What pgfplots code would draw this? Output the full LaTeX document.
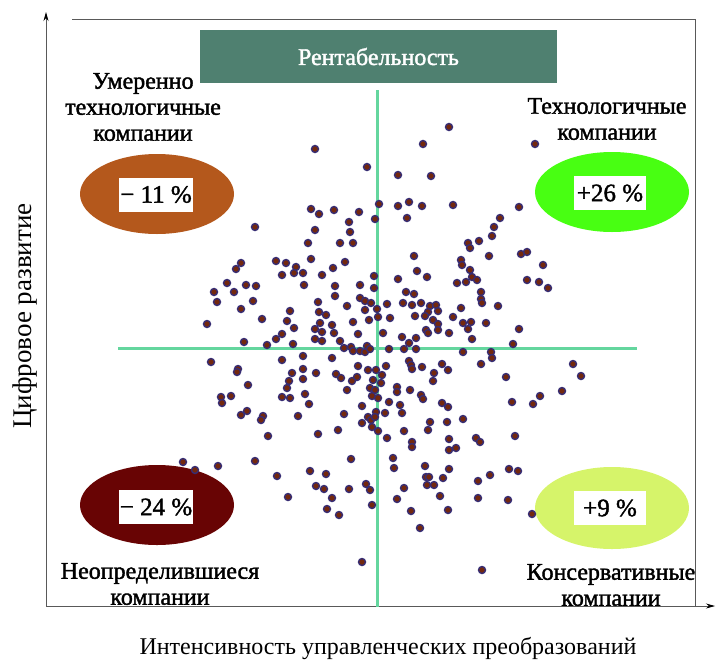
\documentclass[border=0pt]{standalone}
\usepackage{fontspec}
\setmainfont{Liberation Serif}
\newfontfamily\heavy{Liberation Serif}[FakeBold=1.6]
\usepackage{pgfplots}
\pgfplotsset{compat=1.18}
\usetikzlibrary{arrows.meta}
\definecolor{cross}{RGB}{100,214,158}
\definecolor{titlebox}{RGB}{79,128,112}
\definecolor{ebrown}{RGB}{180,88,28}
\definecolor{egreen}{RGB}{72,255,18}
\definecolor{ered}{RGB}{104,4,4}
\definecolor{elime}{RGB}{214,244,106}
\definecolor{dotfill}{RGB}{115,40,14}
\definecolor{dotedge}{RGB}{55,45,115}
\begin{document}
\begin{tikzpicture}
\begin{axis}[
  scale only axis, width=717pt, height=662pt,
  xmin=0, xmax=717, ymin=0, ymax=662, y dir=reverse,
  axis lines=none, ticks=none, clip=false,
]
% axes and frame
\draw[gray!70!black, line width=0.8pt] (axis cs:72,19) -- (axis cs:695,19) -- (axis cs:695,606);
\draw[gray!70!black, line width=0.8pt, -{Stealth[length=9pt,width=5pt,black]}] (axis cs:46,606) -- (axis cs:46,12);
\draw[gray!70!black, line width=0.8pt, -{Stealth[length=9pt,width=5pt,black]}] (axis cs:46,606) -- (axis cs:715,606);
% crosshair
\addplot[cross, line width=3pt] coordinates {(377,90) (377,607)};
\addplot[cross, line width=3pt] coordinates {(118,348) (637,348)};
% scatter
\addplot[only marks, mark=*, mark size=3.5pt, mark options={fill=dotfill, draw=dotedge, line width=1.4pt}] table {
x y
255 227
308 243
311 209
241 263
236 269
276 261
286 263
296 267
311 259
315 149
367 167
449 127
423 144
398 175
431 176
379 204
398 206
409 202
422 206
407 218
375 219
319 214
334 210
359 212
349 222
315 230
350 232
340 243
353 243
345 262
333 268
414 256
417 271
535 144
453 205
519 207
500 218
494 227
492 236
479 241
468 243
470 248
461 260
462 265
470 270
489 256
521 254
527 252
543 265
282 275
294 273
303 273
304 285
227 283
246 285
256 286
214 292
234 292
217 302
253 301
241 309
290 311
262 319
287 321
207 324
294 328
282 334
276 339
244 342
267 345
293 344
303 356
282 360
211 362
238 369
237 372
292 373
303 369
289 381
303 379
248 385
287 388
221 397
222 403
231 396
282 397
290 398
305 394
309 404
247 411
241 415
263 416
261 420
298 416
322 275
374 276
374 288
360 285
335 286
335 296
398 279
427 277
406 292
414 294
403 303
387 304
360 298
365 301
371 303
347 306
318 302
319 312
326 315
365 310
377 309
378 317
390 318
369 320
353 322
320 323
332 325
315 329
322 332
334 333
358 334
383 333
315 339
322 341
340 341
344 348
351 347
353 351
360 351
365 352
367 346
370 349
389 349
402 337
409 343
404 349
416 349
416 338
412 305
421 303
430 306
428 312
436 305
438 311
415 316
425 316
433 320
438 324
426 330
428 333
438 330
449 333
332 358
316 373
336 374
341 378
358 366
368 370
376 370
386 366
382 375
357 377
352 381
373 380
381 383
347 390
370 388
375 390
372 396
378 398
397 387
397 392
409 361
411 365
412 369
422 367
410 390
421 395
423 399
434 373
433 381
442 364
448 370
442 403
448 407
389 402
400 405
402 413
362 406
385 413
376 412
344 414
368 417
371 420
375 417
362 423
430 422
447 422
457 283
466 282
472 277
477 280
481 292
481 299
482 303
498 306
527 280
539 282
548 288
461 308
453 317
463 323
471 322
468 329
486 323
472 339
519 329
513 344
463 352
491 352
492 358
481 364
506 377
573 364
581 376
562 391
540 396
533 404
512 402
463 419
268 436
183 462
195 470
218 466
255 461
277 476
288 497
318 434
338 430
372 427
378 431
387 438
404 431
412 442
412 447
428 430
449 439
449 450
351 459
393 458
394 468
310 471
326 474
316 486
324 489
349 489
366 484
370 490
425 466
426 477
429 477
427 485
434 485
443 478
449 469
404 488
440 496
332 498
397 499
372 505
327 509
339 515
411 511
448 510
420 528
362 562
476 438
480 442
515 436
456 448
478 481
490 475
509 469
518 471
478 498
508 500
532 514
482 570
};
% title box
\node[fill=titlebox, minimum width=357pt, minimum height=53pt, inner sep=0pt, text=white, font=\heavy\fontsize{24}{28}\selectfont] at (axis cs:378.5,56.5) {Рентабельность};
% ellipses
\fill[ebrown] (axis cs:157,194) ellipse [x radius=77pt, y radius=40pt];
\fill[egreen] (axis cs:612,192) ellipse [x radius=77pt, y radius=40pt];
\fill[ered] (axis cs:157,505) ellipse [x radius=77pt, y radius=40pt];
\fill[elime] (axis cs:612,508) ellipse [x radius=77pt, y radius=41pt];
\tikzset{pbox/.style={fill=white, minimum width=72pt, minimum height=34pt, inner sep=1pt, font=\heavy\fontsize{25}{28}\selectfont}}
\node[pbox] at (axis cs:156,194.5) {− 11 \%};
\node[pbox] at (axis cs:610,193) {+26 \%};
\node[pbox] at (axis cs:156,507) {− 24 \%};
\node[pbox] at (axis cs:610,508) {+9 \%};
% quadrant labels
\tikzset{qlab/.style={align=center, font=\heavy\fontsize{24}{26}\selectfont, inner sep=0pt}}
\node[qlab] at (axis cs:143,107) {Умеренно\\технологичные\\компании};
\node[qlab] at (axis cs:607,119) {Технологичные\\компании};
\node[qlab] at (axis cs:160,584) {Неопределившиеся\\компании};
\node[qlab] at (axis cs:611,585) {Консервативные\\компании};
% axis titles
\node[rotate=90, font=\fontsize{27}{30}\selectfont] at (axis cs:25,316) {Цифровое развитие};
\node[font=\fontsize{24}{28}\selectfont] at (axis cs:388,648) {Интенсивность управленческих преобразований};
\end{axis}
\pgfresetboundingbox
\path (current axis.south west) rectangle (current axis.north east);
\end{tikzpicture}
\end{document}
